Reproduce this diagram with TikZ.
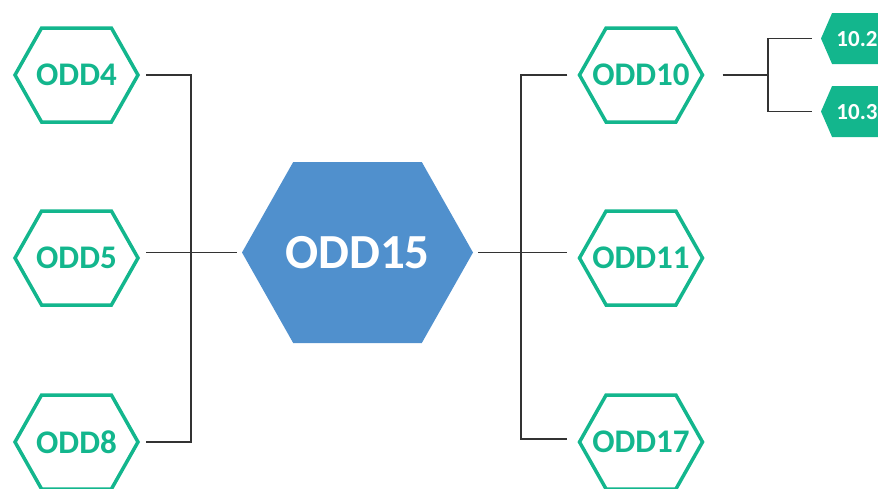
\documentclass[tikz,border=0pt]{standalone}
\usepackage{fontspec}
\setmainfont{Carlito}
\usetikzlibrary{shapes.symbols}
\definecolor{oddgreen}{HTML}{13B68D}
\definecolor{oddblue}{HTML}{5090CD}
\tikzset{hexo/.style = {shape=signal,signal to=west and east,signal pointer angle=121,
  draw=oddgreen,line width=3.5pt,text=oddgreen,inner xsep=-60pt,inner ysep=0pt,
  minimum width=123pt,minimum height=94pt,text depth=0pt,
  font=\bfseries\fontsize{33}{33}\selectfont}}
\tikzset{hexbig/.style = {shape=signal,signal to=west and east,signal pointer angle=121,
  fill=oddblue,text=white,inner xsep=-90pt,inner ysep=0pt,
  minimum width=231pt,minimum height=181pt,text depth=0pt,
  font=\bfseries\fontsize{49}{49}\selectfont}}
\tikzset{hexsmall/.style = {shape=signal,signal to=west and east,signal pointer angle=133,
  fill=oddgreen,text=white,inner xsep=-30pt,inner ysep=0pt,
  minimum width=72pt,minimum height=51pt,text depth=0pt,
  font=\bfseries\fontsize{23}{23}\selectfont}}
\tikzset{link/.style = {draw=black!80,line width=1.1pt}}

\begin{document}
\begin{tikzpicture}[x=1pt,y=-1pt]
\useasboundingbox (0,0) rectangle (878,488);
\clip (0,0) rectangle (878,488);

\node[hexbig] (odd15) at (357.5,252.5) {ODD15};

\node[hexo] (odd4) at (76.5,75) {ODD4};
\node[hexo] (odd5) at (76.5,258) {ODD5};
\node[hexo] (odd8) at (76.5,442) {ODD8};

\node[hexo] (odd10) at (641,75) {ODD10};
\node[hexo] (odd11) at (641,258) {ODD11};
\node[hexo] (odd17) at (641,442) {ODD17};

\node[hexsmall] (t102) at (857,38.5) {10.2};
\node[hexsmall] (t103) at (857,111.5) {10.3};

\coordinate (lbus) at (191,252);
\coordinate (rbus) at (521,252);
\coordinate (sbus) at (768,75);

% left side
\draw[link] ([xshift=6pt]odd4.east) -| (lbus)
  |- ([xshift=6pt]odd8.east);
\draw[link] ([xshift=6pt]odd5.east |- odd15.west)
  -- ([xshift=-5pt]odd15.west);

% right side
\draw[link] ([xshift=-10pt]odd10.west) -| (rbus)
  |- ([xshift=-10pt,yshift=3pt]odd17.west);
\draw[link] ([xshift=5pt]odd15.east)
  -- ([xshift=-10pt]odd11.west |- odd15.east);

% sub targets
\draw[link] ([xshift=18pt]odd10.east) -- (sbus);
\draw[link] ([xshift=-9pt]t102.west) -| (sbus)
  |- ([xshift=-9pt]t103.west);

\end{tikzpicture}
\end{document}
